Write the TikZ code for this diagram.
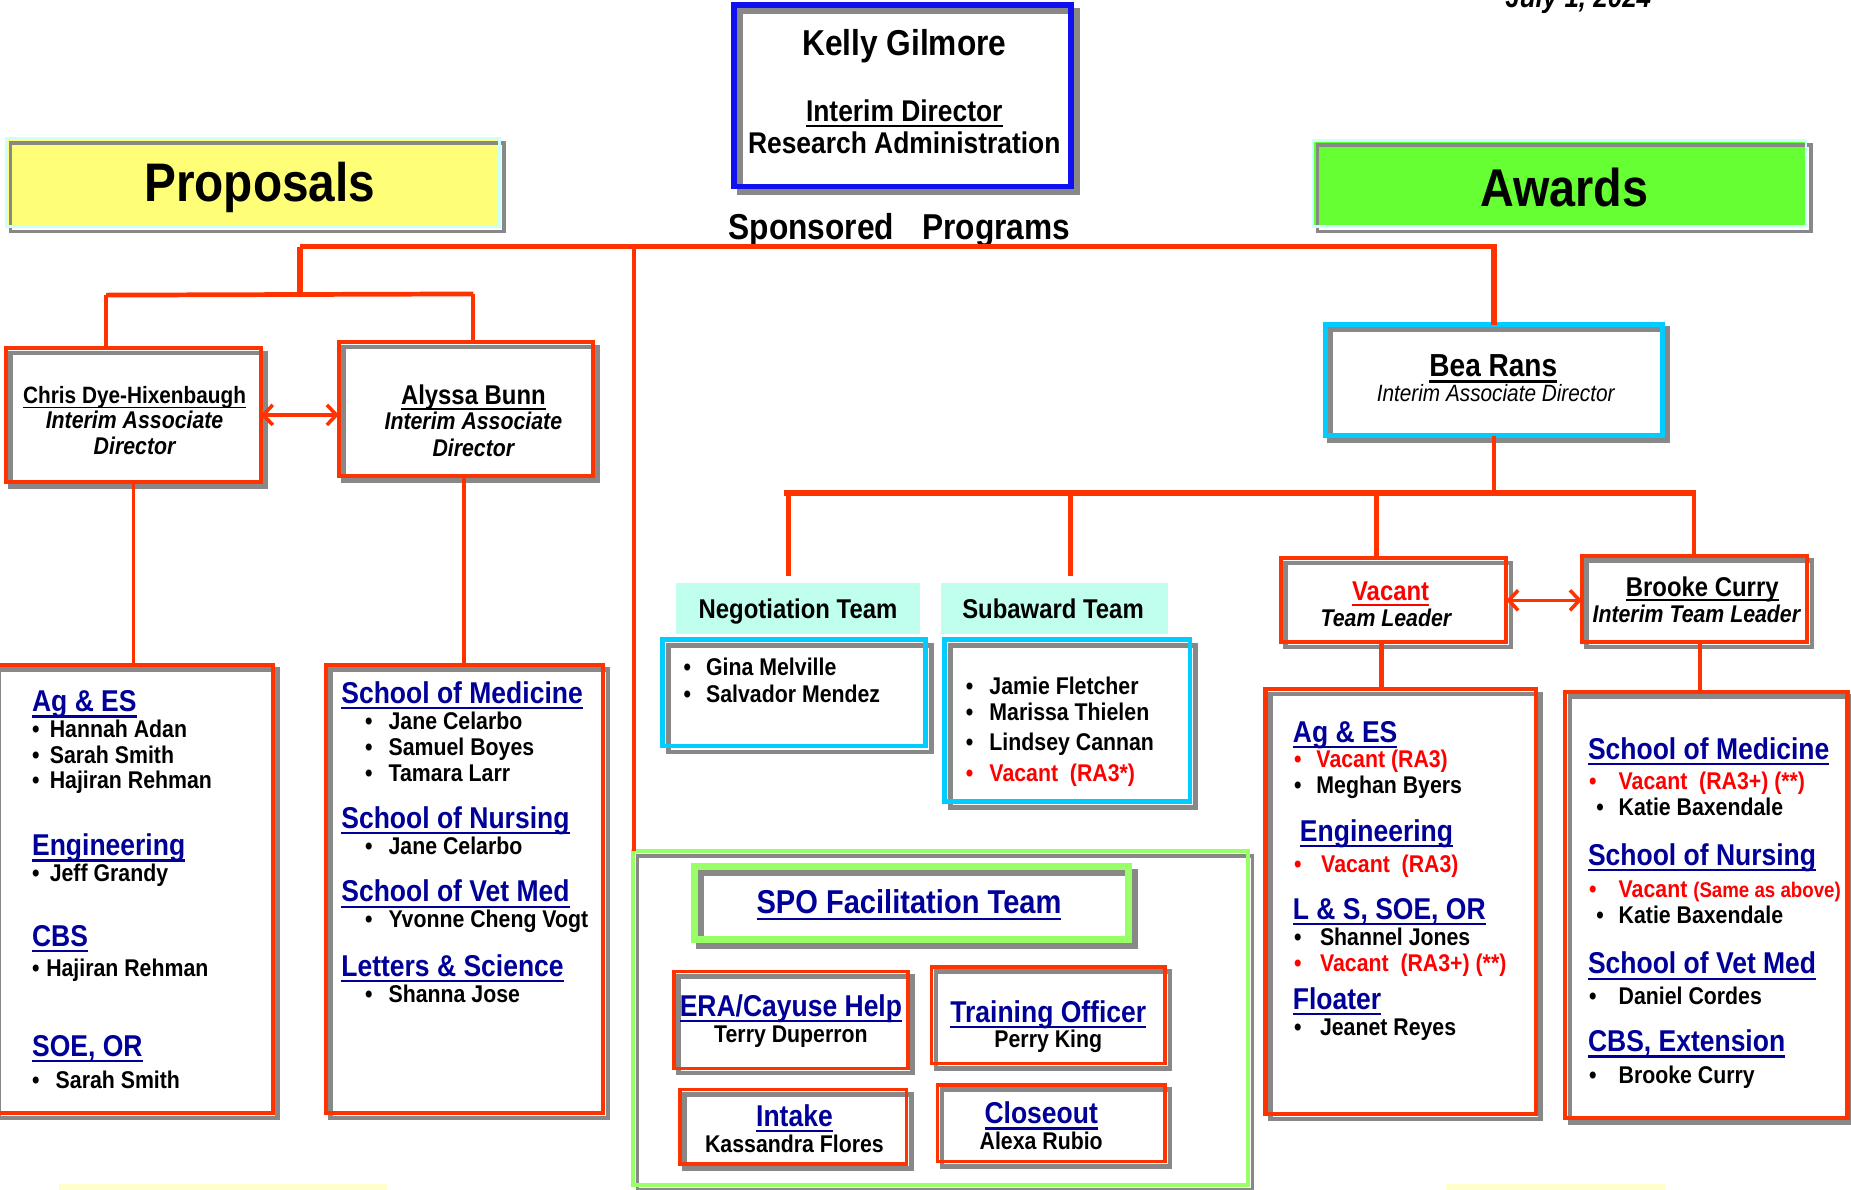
\documentclass[tikz,border=0pt]{standalone}
\usepackage{fontspec}
\setmainfont{Liberation Sans}[FakeStretch=0.88]
\newcommand\uln[1]{\mbox{\setbox0=\hbox{#1}\rlap{\vrule height -0.12em depth 0.19em width \wd0}\box0}}
\usetikzlibrary{arrows.meta,fit}
\definecolor{rd}{HTML}{FF3300}
\definecolor{sh}{HTML}{888888}
\definecolor{cy}{HTML}{00CCFF}
\definecolor{lk}{HTML}{000099}
\definecolor{aq}{HTML}{C0FFEE}
\definecolor{lg}{HTML}{99FF66}
\definecolor{pc}{HTML}{CCFFFF}
\definecolor{yl}{HTML}{FFFF77}
\definecolor{gf}{HTML}{66FF33}
\definecolor{bl}{HTML}{1010F0}
\definecolor{vr}{HTML}{FF0000}
\definecolor{py}{HTML}{FFFFCC}
\newcommand\fs[1]{\fontsize{#1pt}{#1pt}\selectfont}
\tikzset{
  hd/.style={anchor=base west,inner sep=0pt,font={\fs{25.5}\bfseries},text=lk},
  it/.style={anchor=base west,inner sep=0pt,font={\fs{20.5}\bfseries}},
  ct/.style={anchor=base,inner sep=0pt},
  ln/.style={draw=rd,line width=#1pt},
  dbl/.style={draw=rd,line width=3pt,{Straight Barb[length=8pt,width=17pt]}-{Straight Barb[length=8pt,width=17pt]}},
}
\newcommand\hd[4]{\node[hd] (#1) at (#2,#3+9) {\uln{#4}};}
\newcommand\itm[6][black]{\node[it,text=#1] (#2) at (#3,#5+7) {\makebox[\dimexpr#4pt-#3pt\relax][l]{•}#6};}
\newcommand\ctx[5]{\node[ct,font={#5}] (#1) at (#2,#3) {#4};}
\newcommand\area[5]{\node[fit={(#2,#3) (#4,#5)},inner sep=0pt,outer sep=0pt] (#1) {};}
\newcommand\frm[5][4]{%
  \draw[sh,line width=#5pt] ([shift={(#1,#1)}]#2.north west) rectangle ([shift={(#1,#1)}]#2.south east);
  \draw[#3,line width=#4pt] (#2.north west) rectangle (#2.south east);}
\begin{document}
\begin{tikzpicture}[x=1pt,y=-1pt]
\path[use as bounding box] (0,0) rectangle (1568,1008);
\clip (0,0) rectangle (1568,1008);
\fill[white] (0,0) rectangle (1568,1008);

% ---------- top ----------
\area{kel}{622}{4}{907}{158}
\frm[5]{kel}{bl}{5}{5}
\ctx{kel1}{766}{47}{Kelly Gilmore}{\fs{30.5}\bfseries}
\ctx{kel2}{766}{103}{\uln{Interim Director}}{\fs{25.4}\bfseries}
\ctx{kel3}{766}{130}{Research Administration}{\fs{25.4}\bfseries}
\node[anchor=base west,inner sep=0pt,font={\fs{30.5}\bfseries}] (spt) at (617,203) {Sponsored\hspace{24pt}Programs};
\node[anchor=base west,inner sep=0pt,font={\fs{25}\bfseries\itshape}] (date) at (1275,6) {July 1, 2024};

\area{prop}{5}{117}{423}{192}
\fill[yl] (prop.north west) rectangle (prop.south east);
\draw[sh,line width=3pt] ([shift={(4,4)}]prop.north west) rectangle ([shift={(4,4)}]prop.south east);
\draw[pc,line width=2pt] (prop.north west) rectangle (prop.south east);
\ctx{propt}{220}{171}{Proposals}{\fs{46}\bfseries}

\area{awd}{1112}{119}{1530}{192}
\fill[gf] (awd.north west) rectangle (awd.south east);
\draw[sh,line width=3pt] ([shift={(4,4)}]awd.north west) rectangle ([shift={(4,4)}]awd.south east);
\draw[pc,line width=2pt] (awd.north west) rectangle (awd.south east);
\ctx{awdt}{1325}{175}{Awards}{\fs{45}\bfseries}

% ---------- proposals side ----------
\area{chris}{5}{295}{221}{408}
\frm{chris}{rd}{3.5}{4}
\ctx{ch1}{114}{342}{\uln{Chris Dye-Hixenbaugh}}{\fs{20}\bfseries}
\ctx{ch2}{114}{363}{Interim Associate}{\fs{20.5}\bfseries\itshape}
\ctx{ch3}{114}{385}{Director}{\fs{20.5}\bfseries\itshape}

\area{aly}{287}{290}{502}{403}
\frm{aly}{rd}{3.5}{4}
\ctx{al1}{401}{343}{\uln{Alyssa Bunn}}{\fs{23}\bfseries}
\ctx{al2}{401}{364}{Interim Associate}{\fs{20.5}\bfseries\itshape}
\ctx{al3}{401}{387}{Director}{\fs{20.5}\bfseries\itshape}

\area{agl}{-5}{563}{231}{943}
\frm{agl}{rd}{3.5}{4}
\hd{h1}{27}{594}{Ag \& ES}
\itm{i1}{27}{42}{618}{Hannah Adan}
\itm{i2}{27}{42}{640}{Sarah Smith}
\itm{i3}{27}{42}{661}{Hajiran Rehman}
\hd{h2}{27}{716}{Engineering}
\itm{i4}{27}{42}{740}{Jeff Grandy}
\hd{h3}{27}{793}{CBS}
\itm{i5}{27}{39}{820}{Hajiran Rehman}
\hd{h4}{27}{886}{SOE, OR}
\itm{i6}{27}{47}{915}{Sarah Smith}

\area{schl}{276}{563}{511}{943}
\frm{schl}{rd}{3.5}{4}
\hd{h5}{289}{587}{School of Medicine}
\itm{i7}{309}{329}{611}{Jane Celarbo}
\itm{i8}{309}{329}{633}{Samuel Boyes}
\itm{i9}{309}{329}{655}{Tamara Larr}
\hd{h6}{289}{693}{School of Nursing}
\itm{i10}{309}{329}{717}{Jane Celarbo}
\hd{h7}{289}{755}{School of Vet Med}
\itm{i11}{309}{329}{779}{Yvonne Cheng Vogt}
\hd{h8}{289}{818}{Letters \& Science}
\itm{i12}{309}{329}{842}{Shanna Jose}

% ---------- middle ----------
\area{negl}{573}{494}{779}{537}
\fill[aq] (negl.north west) rectangle (negl.south east);
\ctx{neglt}{676}{524}{Negotiation Team}{\fs{23}\bfseries}
\area{neg}{561}{542}{784}{632}
\frm[5]{neg}{cy}{4}{4}
\itm{i13}{579}{598}{565}{Gina Melville}
\itm{i14}{579}{598}{588}{Salvador Mendez}

\area{subl}{797}{494}{989}{537}
\fill[aq] (subl.north west) rectangle (subl.south east);
\ctx{sublt}{892}{524}{Subaward Team}{\fs{23}\bfseries}
\area{sub}{800}{542}{1008}{679}
\frm[5]{sub}{cy}{4}{4}
\itm{i15}{818}{838}{581}{Jamie Fletcher}
\itm{i16}{818}{838}{603}{Marissa Thielen}
\itm{i17}{818}{838}{629}{Lindsey Cannan}
\itm[vr]{i18}{818}{838}{655}{Vacant\ \ (RA3*)}

\area{spoo}{536}{721}{1057}{1004}
\frm{spoo}{lg}{3}{3}
\area{spoi}{588}{734}{956}{796}
\frm[5]{spoi}{lg}{6}{6}
\ctx{spot}{770}{774}{\uln{SPO Facilitation Team}}{\fs{28}\bfseries\color{lk}}

\area{era}{571}{823}{769}{905}
\frm{era}{rd}{3}{4}
\ctx{era1}{670}{861}{\uln{ERA/Cayuse Help}}{\fs{25.5}\bfseries\color{lk}}
\ctx{era2}{670}{883}{Terry Duperron}{\fs{20.5}\bfseries}
\area{trn}{789}{819}{987}{901}
\frm{trn}{rd}{3}{4}
\ctx{trn1}{888}{866}{\uln{Training Officer}}{\fs{25.5}\bfseries\color{lk}}
\ctx{trn2}{888}{887}{Perry King}{\fs{20.5}\bfseries}
\area{itk}{576}{923}{768}{986}
\frm{itk}{rd}{3}{4}
\ctx{itk1}{673}{954}{\uln{Intake}}{\fs{25.5}\bfseries\color{lk}}
\ctx{itk2}{673}{976}{Kassandra Flores}{\fs{20.5}\bfseries}
\area{cls}{794}{919}{987}{984}
\frm{cls}{rd}{3}{4}
\ctx{cls1}{882}{952}{\uln{Closeout}}{\fs{25.5}\bfseries\color{lk}}
\ctx{cls2}{882}{974}{Alexa Rubio}{\fs{20.5}\bfseries}

% ---------- awards side ----------
\area{bea}{1123}{275}{1408}{369}
\frm{bea}{cy}{4}{5}
\ctx{bea1}{1265}{319}{\uln{Bea Rans}}{\fs{27}\bfseries}
\ctx{bea2}{1267}{340}{Interim Associate Director}{\fs{20}\itshape}

\area{vac}{1085}{473}{1276}{544}
\frm{vac}{rd}{3.5}{4}
\ctx{vac1}{1178}{509}{\uln{Vacant}}{\fs{23}\bfseries\color{vr}}
\ctx{vac2}{1174}{531}{Team Leader}{\fs{20.5}\bfseries\itshape}
\area{brk}{1340}{471}{1531}{544}
\frm{brk}{rd}{3.5}{4}
\ctx{brk1}{1442}{505}{\uln{Brooke Curry}}{\fs{23}\bfseries}
\ctx{brk2}{1437}{527}{Interim Team Leader}{\fs{20.5}\bfseries\itshape}

\area{awag}{1072}{584}{1301}{944}
\frm{awag}{rd}{3.5}{4}
\hd{h9}{1095}{620}{Ag \& ES}
\itm[vr]{i19}{1096}{1115}{643}{Vacant (RA3)}
\itm{i20}{1096}{1115}{665}{Meghan Byers}
\hd{h10}{1101}{704}{Engineering}
\itm[vr]{i21}{1096}{1119}{732}{Vacant\ \ (RA3)}
\hd{h11}{1095}{770}{L \& S, SOE, OR}
\itm{i22}{1096}{1118}{794}{Shannel Jones}
\itm[vr]{i23}{1096}{1118}{816}{Vacant\ \ (RA3+) (**)}
\hd{h12}{1095}{846}{Floater}
\itm{i24}{1096}{1118}{870}{Jeanet Reyes}

\area{awsc}{1326}{586}{1565}{947}
\frm{awsc}{rd}{3.5}{4}
\hd{h13}{1345}{634}{School of Medicine}
\itm[vr]{i25}{1346}{1371}{662}{Vacant\ \ (RA3+) (**)}
\itm{i26}{1352}{1371}{684}{Katie Baxendale}
\hd{h14}{1345}{724}{School of Nursing}
\itm[vr]{i27}{1346}{1371}{753}{Vacant {\fs{18}(Same as above)}}
\itm{i28}{1352}{1371}{775}{Katie Baxendale}
\hd{h15}{1345}{816}{School of Vet Med}
\itm{i29}{1346}{1371}{844}{Daniel Cordes}
\hd{h16}{1345}{882}{CBS, Extension}
\itm{i30}{1346}{1371}{911}{Brooke Curry}

% bottom strips of further boxes
\fill[py] (50,1003) rectangle (328,1012);
\fill[py] (1225,1003) rectangle (1410,1012);

% ---------- connectors ----------
\coordinate (jt) at (254,209);
\coordinate (jp) at (254,249);
\coordinate (jcl) at (90,250);
\coordinate (jal) at (401,249);
\coordinate (js) at (537,209);
\coordinate (jb) at (1265.5,418);
\coordinate (ja) at (664,418);
\coordinate (jd) at (1437,418);
\coordinate (d1) at (668,418);
\coordinate (d2) at (907,418);
\coordinate (d3) at (1166,418);
\coordinate (d4) at (1435,418);

\draw[ln=4.5] (jt) -| (bea.north);
\draw[ln=4.5] (jt) -- (jp);
\draw[ln=4] (jcl) -- (jal);
\draw[ln=3] (jcl) -- (jcl |- chris.north);
\draw[ln=3.5] (jal) -- (jal |- aly.north);
\draw[ln=3.5] (js) -- (js |- spoo.north);
\draw[ln=3] (chris.south) -- (chris.south |- agl.north);
\draw[ln=3] ([xshift=-1.5pt]aly.south) -- ([xshift=-1.5pt]aly.south |- schl.north);
\draw[dbl] (chris.east) -- (chris.east -| aly.west);

\draw[ln=4] (bea.south) -- (jb);
\draw[ln=5] (ja) -- (jd);
\draw[ln=4] (d1) -- ([yshift=6pt]d1 |- negl.north);
\draw[ln=4] (d2) -- ([yshift=6pt]d2 |- subl.north);
\draw[ln=4] (d3) -- (d3 |- vac.north);
\draw[ln=4] (d4) -- (d4 |- brk.north);
\draw[dbl] (vac.east) -- (vac.east -| brk.west);
\draw[ln=4] ([xshift=-10.5pt]vac.south) -- ([xshift=-10.5pt]vac.south |- awag.north);
\draw[ln=4] ([xshift=4.5pt]brk.south) -- ([xshift=4.5pt]brk.south |- awsc.north);
\end{tikzpicture}
\end{document}
